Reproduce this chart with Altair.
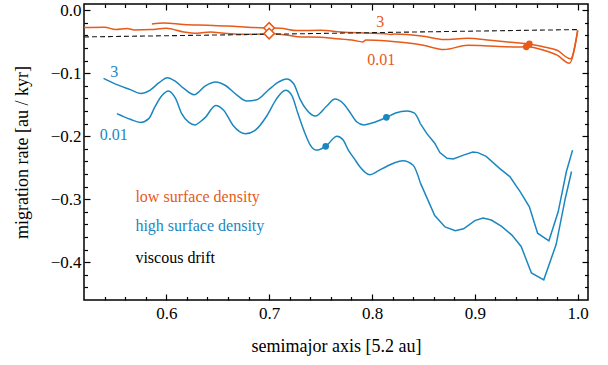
import altair as alt
import pandas as pd

ORANGE = "#e85a19"
BLUE = "#1b87bf"
FONT = "Liberation Serif"

# --- migration tracks (semimajor axis in units of 5.2 au, rate in au/kyr) ---
# low surface density, pebble label "3"
low3_x = [0.586, 0.598, 0.617, 0.640, 0.660, 0.685, 0.699, 0.711, 0.727, 0.750,
          0.770, 0.792, 0.813, 0.818, 0.822, 0.850, 0.870, 0.893, 0.915, 0.938,
          0.953, 0.967, 0.980, 0.993, 1.000]
low3_y = [-0.0217, -0.0201, -0.0227, -0.0238, -0.0249, -0.0274, -0.0281, -0.0285, -0.0322, -0.0317,
          -0.0344, -0.0360, -0.0372, -0.0385, -0.0375, -0.0412, -0.0464, -0.0444, -0.0475, -0.0512,
          -0.0534, -0.0582, -0.0634, -0.0769, -0.0317]

# low surface density, label "0.01"
low001_x = [0.520, 0.540, 0.551, 0.562, 0.569, 0.585, 0.600, 0.617, 0.630, 0.643,
            0.656, 0.672, 0.685, 0.699, 0.718, 0.731, 0.750, 0.763, 0.783, 0.791,
            0.794, 0.815, 0.831, 0.850, 0.870, 0.893, 0.915, 0.938, 0.950, 0.967,
            0.980, 0.992, 1.000]
low001_y = [-0.0274, -0.0269, -0.0306, -0.0290, -0.0312, -0.0306, -0.0285, -0.0344, -0.0364, -0.0344,
            -0.0364, -0.0380, -0.0380, -0.0369, -0.0396, -0.0423, -0.0428, -0.0448, -0.0480, -0.0502,
            -0.0471, -0.0487, -0.0512, -0.0555, -0.0623, -0.0555, -0.0566, -0.0582, -0.0580, -0.0634,
            -0.0713, -0.0840, -0.0317]

# high surface density, label "3"
high3_x = [0.539, 0.552, 0.565, 0.575, 0.584, 0.593, 0.601, 0.609, 0.617, 0.627,
           0.638, 0.648, 0.657, 0.669, 0.678, 0.688, 0.699, 0.709, 0.717,
           0.724, 0.730, 0.737, 0.745, 0.756, 0.764, 0.772, 0.779, 0.785,
           0.792, 0.800, 0.814, 0.823, 0.834, 0.841, 0.847, 0.853, 0.861, 0.866,
           0.873, 0.879, 0.889, 0.898, 0.903, 0.911, 0.924, 0.934, 0.944, 0.953,
           0.961, 0.972, 0.981, 0.989, 0.995]
high3_y = [-0.108, -0.118, -0.126, -0.132, -0.127, -0.115, -0.107, -0.113, -0.124, -0.134,
           -0.120, -0.114, -0.119, -0.135, -0.144, -0.142, -0.127, -0.114, -0.109,
           -0.117, -0.141, -0.159, -0.168, -0.152, -0.141, -0.148, -0.163, -0.177,
           -0.182, -0.179, -0.170, -0.163, -0.160, -0.163, -0.180, -0.195, -0.211, -0.226,
           -0.235, -0.236, -0.230, -0.225, -0.226, -0.232, -0.251, -0.264, -0.288, -0.312,
           -0.354, -0.366, -0.320, -0.256, -0.222]

# high surface density, label "0.01"
high001_x = [0.552, 0.565, 0.575, 0.583, 0.589, 0.596, 0.602, 0.609, 0.615, 0.622,
             0.628, 0.633, 0.638, 0.648, 0.656, 0.665, 0.677, 0.686, 0.698, 0.707,
             0.716, 0.722, 0.728, 0.735, 0.740, 0.746, 0.755, 0.766, 0.772, 0.777,
             0.783, 0.788, 0.798, 0.806, 0.814, 0.822, 0.830, 0.840, 0.847, 0.861,
             0.871, 0.881, 0.889, 0.900, 0.908, 0.916, 0.926, 0.936, 0.945, 0.955,
             0.967, 0.979, 0.988, 0.994]
high001_y = [-0.164, -0.173, -0.178, -0.172, -0.153, -0.135, -0.128, -0.140, -0.164, -0.178,
             -0.182, -0.177, -0.170, -0.151, -0.159, -0.183, -0.196, -0.191, -0.167, -0.141,
             -0.127, -0.135, -0.164, -0.196, -0.214, -0.222, -0.216, -0.200, -0.206, -0.222,
             -0.236, -0.248, -0.261, -0.255, -0.248, -0.242, -0.239, -0.246, -0.274, -0.326,
             -0.344, -0.350, -0.347, -0.334, -0.330, -0.333, -0.343, -0.357, -0.375, -0.417,
             -0.428, -0.372, -0.298, -0.256]

# viscous drift of the disc
drift_x = [0.52, 0.60, 0.70, 0.80, 0.90, 1.00]
drift_y = [-0.0423, -0.0404, -0.0380, -0.0355, -0.0330, -0.0306]

# open diamonds and filled dots on the tracks
diamond_x = [0.70, 0.70]
diamond_y = [-0.0281, -0.0369]
dot_x = [0.953, 0.950, 0.814, 0.755]
dot_y = [-0.0534, -0.0580, -0.170, -0.216]
dot_group = ["low", "low", "high", "high"]

# curve annotations
curve_text = ["3", "0.01", "3", "0.01"]
curve_x = [0.808, 0.809, 0.5495, 0.549]
curve_y = [-0.0265, -0.0872, -0.1057, -0.206]
curve_group = ["low", "low", "high", "high"]

# key text
key_text = ["low surface density", "high surface density", "viscous drift"]
key_x = [0.570, 0.570, 0.570]
key_y = [-0.304, -0.351, -0.401]
key_group = ["low", "high", "drift"]

# axis ticks
x_major = [0.6, 0.7, 0.8, 0.9, 1.0]
x_minor = [0.54, 0.56, 0.58, 0.62, 0.64, 0.66, 0.68, 0.72, 0.74, 0.76, 0.78,
           0.82, 0.84, 0.86, 0.88, 0.92, 0.94, 0.96, 0.98]
y_major = [0.0, -0.1, -0.2, -0.3, -0.4]
y_minor = [-0.02, -0.04, -0.06, -0.08, -0.12, -0.14, -0.16, -0.18, -0.22, -0.24,
           -0.26, -0.28, -0.32, -0.34, -0.36, -0.38, -0.42, -0.44]

# the high-density tracks are coarsely sampled (straight segments) beyond this point
COARSE_FROM = 0.847

# ---------------------------------------------------------------------------
tracks = pd.concat([
    pd.DataFrame({"x": low3_x, "y": low3_y, "series": "low_3", "group": "low"}),
    pd.DataFrame({"x": low001_x, "y": low001_y, "series": "low_001", "group": "low"}),
    pd.DataFrame({"x": high3_x, "y": high3_y, "series": "high_3", "group": "high"}),
    pd.DataFrame({"x": high001_x, "y": high001_y, "series": "high_001", "group": "high"}),
], ignore_index=True)
drift = pd.DataFrame({"x": drift_x, "y": drift_y})
diamonds = pd.DataFrame({"x": diamond_x, "y": diamond_y})
dots = pd.DataFrame({"x": dot_x, "y": dot_y, "group": dot_group})
curve_labels = pd.DataFrame({"x": curve_x, "y": curve_y, "text": curve_text, "group": curve_group})
key = pd.DataFrame({"x": key_x, "y": key_y, "text": key_text, "group": key_group})

xs = alt.Scale(domain=[0.52, 1.01], nice=False, zero=False)
ys = alt.Scale(domain=[-0.46, 0.01], nice=False, zero=False)
colors = alt.Scale(domain=["low", "high", "drift"], range=[ORANGE, BLUE, "black"])

IS_MAJOR = "abs(datum.value * 10 - round(datum.value * 10)) < 1e-6"
# inward ticks: grid lines dashed so only a short piece at the frame is visible
tick_dash = {"condition": {"test": IS_MAJOR, "value": [6, 1000]}, "value": [3.5, 1000]}
label_expr = (IS_MAJOR + " ? replace(format(datum.value, '.1f'), '-', '\u2212') : ''")

common = dict(ticks=False, tickSize=0, domain=False, grid=True, gridColor="black",
              gridOpacity=1, gridWidth=1.2, gridDash=tick_dash, labelOverlap=False,
              labelFlush=False, zindex=1)

x_bottom = alt.Axis(values=sorted(x_major + x_minor), orient="bottom",
                    title="semimajor axis [5.2 au]", labelExpr=label_expr,
                    labelFont=FONT, labelFontSize=17, labelColor="black", labelPadding=5,
                    titleFont=FONT, titleFontSize=18, titleFontWeight="normal",
                    titleColor="black", titleX=252, titleY=51, titleBaseline="alphabetic",
                    titleAlign="center", **common)
y_left = alt.Axis(values=sorted(y_major + y_minor), orient="left",
                  title="migration rate [au / kyr]", labelExpr=label_expr,
                  labelFont=FONT, labelFontSize=17, labelColor="black", labelPadding=3,
                  titleFont=FONT, titleFontSize=18, titleFontWeight="normal",
                  titleColor="black", titleAngle=270, titleX=-57, titleY=148,
                  titleBaseline="alphabetic", titleAlign="center", **common)
x_top = alt.Axis(values=sorted(x_major + x_minor), orient="top", labels=False, title="",
                 **common)
y_right = alt.Axis(values=sorted(y_major + y_minor), orient="right", labels=False, title="",
                   **common)

# smooth part of every track
smooth_layer = alt.Chart(tracks).transform_filter(
    f"datum.group == 'low' || datum.x <= {COARSE_FROM}"
).mark_line(
    strokeWidth=1.5, clip=True, interpolate="monotone"
).encode(
    x=alt.X("x:Q", scale=xs, axis=x_bottom),
    y=alt.Y("y:Q", scale=ys, axis=y_left),
    color=alt.Color("group:N", scale=colors, legend=None),
    detail="series:N",
)

# coarse, straight-segment part of the high-density tracks
coarse_layer = alt.Chart(tracks).transform_filter(
    f"datum.group == 'high' && datum.x >= {COARSE_FROM}"
).mark_line(
    strokeWidth=1.5, clip=True, interpolate="linear"
).encode(
    x=alt.X("x:Q", scale=xs, axis=None),
    y=alt.Y("y:Q", scale=ys, axis=None),
    color=alt.Color("group:N", scale=colors, legend=None),
    detail="series:N",
)

drift_layer = alt.Chart(drift).mark_line(
    strokeWidth=1.1, strokeDash=[5, 3], color="#1a1a1a"
).encode(
    x=alt.X("x:Q", scale=xs, axis=None),
    y=alt.Y("y:Q", scale=ys, axis=None),
)

dot_layer = alt.Chart(dots).mark_circle(size=45, opacity=1).encode(
    x=alt.X("x:Q", scale=xs, axis=x_top),
    y=alt.Y("y:Q", scale=ys, axis=y_right),
    color=alt.Color("group:N", scale=colors, legend=None),
)

diamond_layer = alt.Chart(diamonds).mark_point(
    shape="diamond", size=110, filled=True, fill="white", stroke=ORANGE,
    strokeWidth=1.6, opacity=1
).encode(
    x=alt.X("x:Q", scale=xs, axis=None),
    y=alt.Y("y:Q", scale=ys, axis=None),
)

curve_label_layer = alt.Chart(curve_labels).mark_text(
    font=FONT, fontSize=16, align="center", baseline="alphabetic"
).encode(
    x=alt.X("x:Q", scale=xs, axis=None),
    y=alt.Y("y:Q", scale=ys, axis=None),
    text="text:N",
    color=alt.Color("group:N", scale=colors, legend=None),
)

key_layer = alt.Chart(key).mark_text(
    font=FONT, fontSize=16, align="left", baseline="alphabetic"
).encode(
    x=alt.X("x:Q", scale=xs, axis=None),
    y=alt.Y("y:Q", scale=ys, axis=None),
    text="text:N",
    color=alt.Color("group:N", scale=colors, legend=None),
)

chart = alt.layer(
    smooth_layer, coarse_layer, drift_layer, dot_layer, diamond_layer,
    curve_label_layer, key_layer
).resolve_axis(
    x="independent", y="independent"
).properties(
    width=504, height=296,
    autosize=alt.AutoSizeParams(type="none"),
    padding={"left": 84, "top": 4, "right": 20, "bottom": 65},
    background="white",
).configure_view(
    stroke="black", strokeWidth=1.5, fill="white"
).configure_axis(
    labelFont=FONT, titleFont=FONT
).configure_text(
    font=FONT
)

chart.save("out.html", embed_options={"renderer": "svg", "actions": False})
